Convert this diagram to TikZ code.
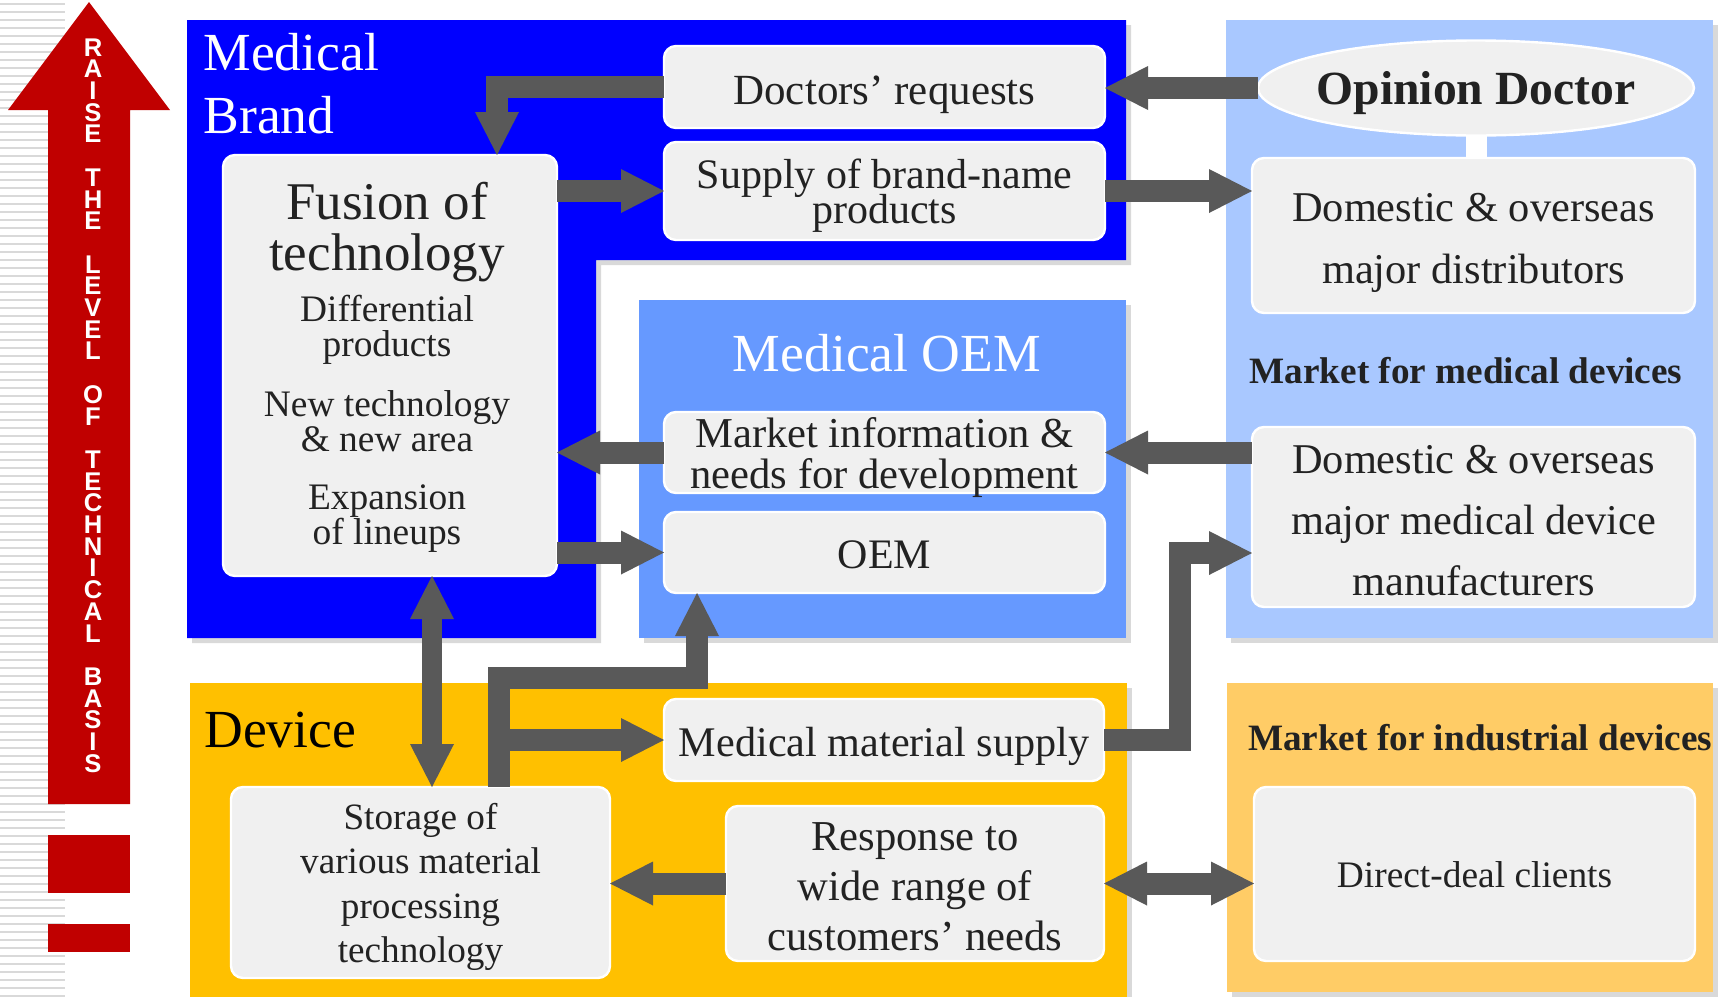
\documentclass[tikz,border=0pt]{standalone}
\usepackage{fontspec}
\setmainfont{Liberation Serif}
\newfontfamily\riserfont{Liberation Sans}
\usetikzlibrary{shapes.geometric, arrows.meta, positioning, calc, shadows}

\definecolor{brandblue}{HTML}{0000FF}
\definecolor{oemblue}{HTML}{6699FF}
\definecolor{mktblue}{HTML}{A9C8FF}
\definecolor{devgold}{HTML}{FFC000}
\definecolor{indorange}{HTML}{FFCC66}
\definecolor{boxgray}{HTML}{F0F0F0}
\definecolor{flowgray}{HTML}{595959}
\definecolor{basered}{HTML}{C00000}
\definecolor{stripegray}{HTML}{D9D9D9}
\definecolor{inktext}{HTML}{222222}

\newcommand{\itemfont}[2]{\fontsize{#1}{#2}\selectfont\lineskiplimit=-50pt\relax}
% invisible strut that lowers a box text a little
\newcommand{\sink}[1]{\rule{0pt}{\dimexpr0.69em+#1\relax}}

\begin{document}
\begin{tikzpicture}[
    x=0.5pt, y=-0.5pt,
    >={Triangle[length=21.5pt, width=22pt, line width=0pt]},
    panel/.style={rectangle, inner sep=0pt, outer sep=0pt, anchor=north west,
        drop shadow={shadow xshift=2.5pt, shadow yshift=-2.5pt, opacity=0.3}},
    item/.style={rectangle, rounded corners=6pt, draw=white, line width=1.2pt,
        fill=boxgray, text=inktext, align=center, inner sep=0pt, outer sep=0pt},
    heading/.style={text=white, inner sep=0pt, font=\fontsize{26.8}{31.5}\selectfont},
    market/.style={text=inktext, inner sep=0pt, anchor=base,
        font=\bfseries\fontsize{18.6}{18.6}\selectfont},
    fusiontxt/.style={text=inktext, inner sep=0pt, align=center},
    riser/.style={text=white, inner sep=0pt,
        font=\riserfont\bfseries\fontsize{12.8}{12.8}\selectfont},
    flow/.style={->, draw=flowgray, line width=11pt},
    twoway/.style={<->, draw=flowgray, line width=11pt}
]
    \useasboundingbox (0,0) rectangle (1729,996);

    % Striped margin
    \foreach \s in {4,12,...,996}
        \draw[stripegray, line width=1pt] (0,\s) -- (65,\s);

    % Rising arrow
    \fill[basered] (48,804) -- (48,110) -- (8,110) -- (89,2) -- (170,110)
        -- (130,110) -- (130,804) -- cycle;
    \fill[basered] (48,835) rectangle (130,893);
    \fill[basered] (48,924) rectangle (130,952);
    \foreach \ch [count=\i from 0] in {R,A,I,S,E,{},T,H,E,{},L,E,V,E,L,{},O,F,{},
            T,E,C,H,N,I,C,A,L,{},B,A,S,I,S}
        \node[riser] (rise\i) at (93,47.3+21.7*\i) {\ch};

    % Panels
    \fill[brandblue, drop shadow={shadow xshift=2.5pt, shadow yshift=-2.5pt, opacity=0.3}]
        (187,20) -- (1126,20) -- (1126,260) -- (596,260) -- (596,638) -- (187,638) -- cycle;
    \node[panel, fill=oemblue, minimum width=243.5pt, minimum height=169pt] (oempanel) at (639,300) {};
    \node[panel, fill=mktblue, minimum width=243.5pt, minimum height=309pt] (mktpanel) at (1226,20) {};
    \node[panel, fill=devgold, minimum width=468.5pt, minimum height=165pt] (devpanel) at (190,683) {};
    \node[panel, fill=indorange, minimum width=243pt, minimum height=154.5pt] (indpanel) at (1227,683) {};

    \node[heading, anchor=north west, align=left] (brandlbl) at (203,33) {Medical\\Brand};
    \node[heading, anchor=base] (oemlbl) at (887,371) {Medical OEM};
    \node[heading, text=black, anchor=base west] (devlbl) at (204,747) {Device};

    % Medical Brand
    \node[item, minimum width=220.5pt, minimum height=41pt, font=\itemfont{21.5}{25}] (doc) at (884.5,87) {\sink{7pt}Doctors’ requests};
    \node[item, minimum width=220.5pt, minimum height=49pt, font=\itemfont{21}{17.5}, below=7pt of doc] (supply) {\sink{4.5pt}Supply of brand-name\\products};
    \node[item, minimum width=167pt, minimum height=210.5pt] (fusion) at (390,365.5) {};
    \node[fusiontxt, font=\itemfont{26.5}{25.5}, below=13.5pt of fusion.north, xshift=-1.5pt] (fusionhead) {Fusion of\\technology};
    \node[fusiontxt, font=\itemfont{18.7}{17.5}, below=6pt of fusionhead] (diffprod) {Differential\\products};
    \node[fusiontxt, font=\itemfont{18.7}{17.5}, below=12.75pt of diffprod] (newtech) {New technology\\\& new area};
    \node[fusiontxt, font=\itemfont{18.7}{17.5}, below=16.25pt of newtech] (lineups) {Expansion\\of lineups};

    % Medical OEM
    \node[item, minimum width=220.5pt, minimum height=40.5pt, inner ysep=-3pt, font=\itemfont{21.3}{20.5}] (mktinfo) at (884.5,452.5) {\sink{5.5pt}Market information \&\\needs for development};
    \node[item, minimum width=220.5pt, minimum height=40.5pt, font=\itemfont{21}{21}, below=9.5pt of mktinfo] (oem) {\sink{2pt}OEM};

    % Market for medical devices
    \node[item, ellipse, minimum width=218pt, minimum height=47.5pt, inner xsep=-10pt, font=\bfseries\fontsize{23.8}{23.8}\selectfont] (opinion) at (1476,88) {\sink{5.5pt}Opinion Doctor};
    \node[item, minimum width=221.5pt, minimum height=77.5pt, font=\itemfont{21.2}{31}] (dist) at (1473.5,235.5) {\sink{6.5pt}Domestic \& overseas\\major distributors};
    \node[market] (mktmed) at (1466,383) {Market for medical devices};
    \node[item, minimum width=221.5pt, minimum height=90pt, font=\itemfont{21.2}{30.5}] (manuf) at (1473.5,517) {\sink{3pt}Domestic \& overseas\\major medical device\\manufacturers};
    \draw[white, line width=10.5pt] (opinion.south) -- (opinion.south |- dist.north);

    % Device
    \node[item, minimum width=220pt, minimum height=41pt, font=\itemfont{21.1}{21}] (material) at (884,740) {\sink{6.5pt}Medical material supply};
    \node[item, minimum width=189.5pt, minimum height=95.5pt, font=\itemfont{18.6}{22.2}] (storage) at (420.5,882.5) {\sink{4.5pt}Storage of\\various material\\processing\\technology};
    \node[item, minimum width=189pt, minimum height=77.5pt, font=\itemfont{21.3}{25}] (response) at (915,883.5) {\sink{2.5pt}Response to\\wide range of\\customers’ needs};

    % Market for industrial devices
    \node[market] (mktind) at (1480,750) {Market for industrial devices};
    \node[item, minimum width=220.5pt, minimum height=87pt, font=\itemfont{18.7}{18.7}] (direct) at (1474.5,874) {\sink{1pt}Direct-deal clients};

    % Flows
    \draw[flow] (opinion.west) -- (opinion.west -| doc.east);
    \draw[flow] (doc.west) -| ($(fusion.north east)+(-60,0)$);
    \draw[flow] (fusion.east |- supply.west) -- (supply.west);
    \draw[flow] (supply.east) -- (supply.east -| dist.west);
    \draw[flow] (manuf.west |- mktinfo.east) -- (mktinfo.east);
    \draw[flow] (mktinfo.west) -- (mktinfo.west -| fusion.east);
    \draw[flow] (fusion.east |- oem.west) -- (oem.west);

    \coordinate (linkfoot) at ($(storage.north)+(11.5,0)$);
    \draw[twoway, line width=10pt] (linkfoot) -- (linkfoot |- fusion.south);

    \coordinate (stem) at ($(storage.north)+(78.5,0)$);
    \coordinate (oemfoot) at ($(oem.south west)+(33,0)$);
    \draw[flow] (stem) |- ($(oemfoot)+(0,84.5)$) -- (oemfoot);
    \draw[flow] (stem |- material.west) -- (material.west);
    \draw[flow] (material.east) -| ($(manuf.west)+(-72,36)$) -- ($(manuf.west)+(0,36)$);

    \draw[flow] (response.west) -- (response.west -| storage.east);
    \draw[twoway] (response.east) -- (response.east -| direct.west);
\end{tikzpicture}
\end{document}
